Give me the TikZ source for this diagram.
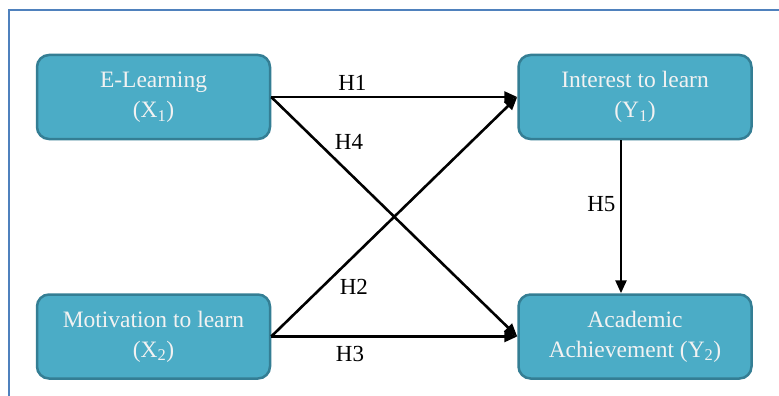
\documentclass[tikz,border=0pt]{standalone}
\usepackage{fontspec}
\setmainfont{Liberation Serif}
\usetikzlibrary{arrows.meta, positioning}
\definecolor{boxfill}{RGB}{75,172,198}
\definecolor{boxedge}{RGB}{52,126,148}
\definecolor{framecol}{RGB}{79,129,189}
\definecolor{boxtext}{RGB}{242,242,242}

\begin{document}
\begin{tikzpicture}[x=1pt, y=-1pt,
  varbox/.style={draw=boxedge, fill=boxfill, line width=2.5pt, rounded corners=12pt,
    minimum width=233pt, minimum height=84pt, align=center, text=boxtext,
    font=\fontsize{23.5}{30}\selectfont},
  hyp/.style={line width=2.6pt, -{Triangle[length=13pt,width=11pt]}},
  hlabel/.style={font=\fontsize{23}{26}\selectfont}]
  \useasboundingbox (0,0) rectangle (779,396);
  % outer frame
  \draw[framecol, line width=2pt] (9,396) |- (779,10);

  % variables
  \node[varbox] (x1) at (153.5,97) {E-Learning\\(X\textsubscript{1})};
  \node[varbox] (x2) at (153.5,336.5) {Motivation to learn\\(X\textsubscript{2})};
  \node[varbox] (y1) at (635,97) {Interest to learn\\(Y\textsubscript{1})};
  \node[varbox] (y2) at (635,336.5) {Academic\\Achievement (Y\textsubscript{2})};

  % hypotheses
  \draw[hyp] (x1.east) -- node[hlabel, above=2pt, pos=0.33] (h1) {H1} (y1.west);
  \draw[hyp] (x1.east) -- node[hlabel, above right, pos=0.24] (h4) {H4} (y2.west);
  \draw[hyp] (x2.east) -- node[hlabel, below right, pos=0.26] (h2) {H2} (y1.west);
  \draw[hyp] (x2.east) -- node[hlabel, below=5pt, pos=0.32] (h3) {H3} (y2.west);
  \draw[hyp] ([xshift=-14pt]y1.south) -- node[hlabel, left=1pt, pos=0.42] (h5) {H5} ([xshift=-14pt]y2.north);
\end{tikzpicture}
\end{document}
